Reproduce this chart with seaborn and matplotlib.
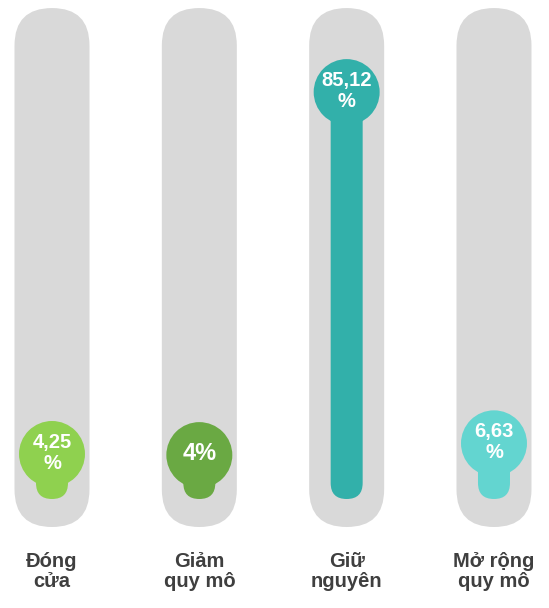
import matplotlib
matplotlib.use("Agg")
import matplotlib.pyplot as plt
from matplotlib.patches import FancyBboxPatch
import seaborn as sns

# Survey outcome shares (%)
categories = ["Đóng\ncửa", "Giảm\nquy mô", "Giữ\nnguyên", "Mở rộng\nquy mô"]
values = [4.25, 4.0, 85.12, 6.63]
value_labels = ["4,25\n%", "4%", "85,12\n%", "6,63\n%"]
label_sizes = [14.5, 17, 14.5, 14.5]
colors = ["#8fd14f", "#6aa943", "#32b0aa", "#63d5d0"]

TRACK = "#d9d9d9"
TEXT = "#3f3f3f"

W, H, DPI = 549, 608, 100
fig = plt.figure(figsize=(W / DPI, H / DPI), dpi=DPI)
ax = fig.add_axes([0, 0, 1, 1])

# pixel scales of the data axes
x_px = 147.33          # pixels per category step
y_px = 4.475           # pixels per percentage point
aspect = x_px / y_px

track_bottom, track_top = -12.07, 103.9
stick_bottom = -5.81
track_w = 75 / x_px
stick_w = 32 / x_px

# colored sticks drawn by seaborn, then rebuilt as rounded capsules
sns.barplot(x=categories, y=values, hue=categories, palette=colors,
            saturation=1, width=stick_w, legend=False, ax=ax, zorder=2)
bars = list(ax.patches)
for p in bars:
    x0, w, h = p.get_x(), p.get_width(), p.get_height()
    fc = p.get_facecolor()
    p.remove()
    ax.add_patch(FancyBboxPatch((x0, stick_bottom), w, h - stick_bottom,
                                boxstyle=f"round,pad=0,rounding_size={w / 2}",
                                mutation_aspect=aspect, fc=fc, ec="none",
                                zorder=2))

# grey background tracks
for i in range(len(categories)):
    ax.add_patch(FancyBboxPatch((i - track_w / 2, track_bottom), track_w,
                                track_top - track_bottom,
                                boxstyle=f"round,pad=0,rounding_size={track_w / 2}",
                                mutation_aspect=aspect, fc=TRACK, ec="none",
                                zorder=1))

# value bubbles
sns.scatterplot(x=categories, y=values, hue=categories, palette=colors,
                s=2256, linewidth=0, legend=False, ax=ax, zorder=3)

for i, (v, lab, fs) in enumerate(zip(values, value_labels, label_sizes)):
    ax.text(i, v + 0.3, lab, ha="center", va="center", color="white",
            fontsize=fs, fontweight="bold", family="Liberation Sans",
            linespacing=1.15, zorder=4)

for i, cat in enumerate(categories):
    ax.text(i, -22.0, cat, ha="center", va="center", color=TEXT,
            fontsize=14.5, fontweight="bold", family="Liberation Sans",
            linespacing=1.08, zorder=4)

ax.set_xlim(-52 / x_px, (W - 52) / x_px)
ax.set_ylim(-(H - 473) / y_px, 473 / y_px)
ax.axis("off")

fig.savefig("out.png", dpi=DPI, facecolor="white")
